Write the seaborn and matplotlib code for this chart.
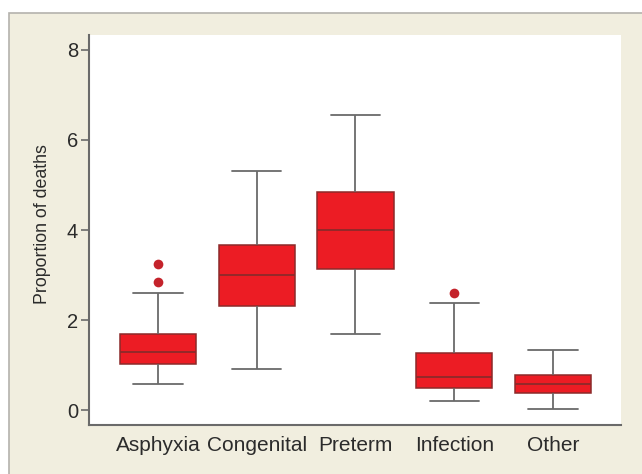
import numpy as np
import pandas as pd
import matplotlib.pyplot as plt
import matplotlib.patches as mpatches
import seaborn as sns

# Five-number summaries (lower whisker, Q1, median, Q3, upper whisker)
causes = ['Asphyxia', 'Congenital', 'Preterm', 'Infection', 'Other']
lower_whisker = [0.59, 0.91, 1.70, 0.21, 0.02]
q1 = [1.02, 2.31, 3.13, 0.49, 0.38]
median = [1.29, 3.00, 3.99, 0.74, 0.57]
q3 = [1.68, 3.67, 4.84, 1.27, 0.78]
upper_whisker = [2.61, 5.31, 6.56, 2.38, 1.33]

# outliers
outlier_cause = ['Asphyxia', 'Asphyxia', 'Infection']
outlier_value = [2.84, 3.24, 2.61]

rows = []
for i, c in enumerate(causes):
    for v in (lower_whisker[i], q1[i], median[i], q3[i], upper_whisker[i]):
        rows.append({'cause': c, 'value': v})
df = pd.DataFrame(rows)
out_df = pd.DataFrame({'cause': outlier_cause, 'value': outlier_value})

sns.set_style('white')
plt.rcParams['font.family'] = ['Liberation Sans', 'DejaVu Sans']

fig = plt.figure(figsize=(6.42, 4.74), dpi=100, facecolor='white')
# beige panel with thin grey border, behind the axes
panel = mpatches.Rectangle((9 / 642, -0.05), 1.0, 1 - 13 / 474 + 0.05,
                           transform=fig.transFigure, facecolor='#f1eedf',
                           edgecolor='#b4b2ad', linewidth=1.2, zorder=-10)
fig.add_artist(panel)

ax = fig.add_axes([89 / 642, 1 - 425 / 474, (621 - 89) / 642, (425 - 35) / 474])
ax.set_facecolor('white')

red = '#ec1c24'
edge = '#8c2a2a'
grey = '#6a6a6a'
txt = '#2b2b2b'

sns.boxplot(data=df, x='cause', y='value', order=causes, whis=(0, 100),
            width=0.77, color=red, saturation=1, ax=ax,
            boxprops={'facecolor': red, 'edgecolor': edge, 'linewidth': 1.1},
            medianprops={'color': edge, 'linewidth': 1.3},
            whiskerprops={'color': grey, 'linewidth': 1.3},
            capprops={'color': grey, 'linewidth': 1.3},
            showfliers=False)

sns.stripplot(data=out_df, x='cause', y='value', order=causes, jitter=False,
              color='#c4232b', size=7, linewidth=0, ax=ax)

# widen the whisker caps
for line in ax.lines:
    xd = np.asarray(line.get_xdata(), dtype=float)
    yd = np.asarray(line.get_ydata(), dtype=float)
    if len(xd) == 2 and yd[0] == yd[1] and xd[0] != xd[1]:
        mid = xd.mean()
        half = abs(xd[1] - xd[0]) / 2
        if half < 0.3:
            line.set_xdata([mid - 0.25, mid + 0.25])

ax.set_xlim(-0.697, 4.687)
ax.set_ylim(-0.33, 8.33)
ax.set_yticks([0, 2, 4, 6, 8])
ax.set_xlabel('')
ax.set_ylabel('Proportion of deaths', fontsize=12.8, color=txt)
ax.yaxis.set_label_coords(-0.072, 0.515)
ax.tick_params(axis='y', direction='out', length=6, width=1.2, color=grey,
               labelsize=14.5, labelcolor=txt, pad=2, left=True)
ax.tick_params(axis='x', length=0, labelsize=15, labelcolor=txt, pad=8)

for s in ['top', 'right']:
    ax.spines[s].set_visible(False)
for s in ['left', 'bottom']:
    ax.spines[s].set_color(grey)
    ax.spines[s].set_linewidth(1.5)

fig.savefig('out.png', dpi=100, facecolor=fig.get_facecolor())
